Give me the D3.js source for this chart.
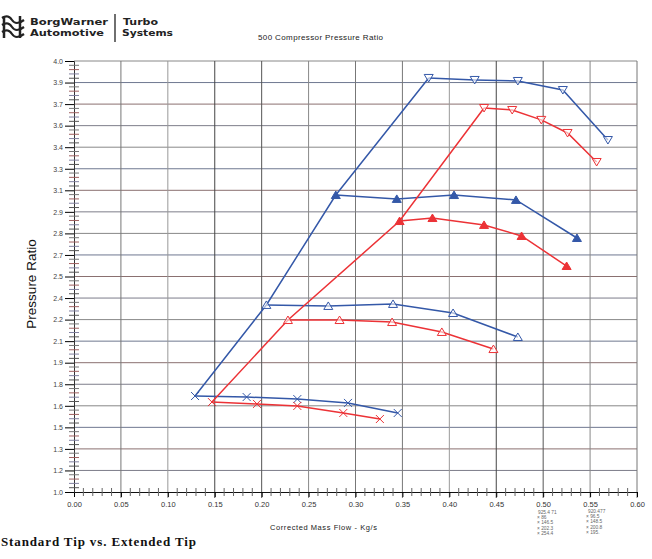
<!DOCTYPE html>
<html><head><meta charset="utf-8">
<script src="https://cdn.jsdelivr.net/npm/d3@7"></script>
<style>body{margin:0;background:#fff}svg{display:block}</style>
</head><body><svg id="c" width="652" height="559"></svg>
<script>
// ---- data ----
const blueSpeed1 = [[0.129,1.668],[0.184,1.661],[0.238,1.647],[0.292,1.620],[0.345,1.550]];
const blueSpeed2 = [[0.205,2.302],[0.271,2.295],[0.340,2.309],[0.404,2.246],[0.473,2.079]];
const blueSpeed3 = [[0.279,3.067],[0.344,3.040],[0.405,3.067],[0.471,3.033],[0.536,2.768]];
const blueSpeed4 = [[0.378,3.882],[0.427,3.868],[0.473,3.861],[0.521,3.798],[0.569,3.450]];
const redSpeed1 = [[0.147,1.626],[0.195,1.613],[0.238,1.599],[0.287,1.550],[0.326,1.508]];
const redSpeed2 = [[0.228,2.197],[0.283,2.197],[0.339,2.183],[0.392,2.114],[0.447,1.995]];
const redSpeed3 = [[0.347,2.886],[0.382,2.907],[0.437,2.859],[0.477,2.782],[0.525,2.573]];
const redSpeed4 = [[0.437,3.673],[0.467,3.659],[0.498,3.590],[0.526,3.499],[0.557,3.297]];
const markers = ["x","triUpOpen","triUpFilled","triDownOpen"];
const xTickValues = [0,0.05,0.10,0.15,0.20,0.25,0.30,0.35,0.40,0.45,0.50,0.55,0.60];
const xTickLabels = ["0.00","0.05","0.10","0.15","0.20","0.25","0.30","0.35","0.40","0.45","0.50","0.55","0.60"];
const yTickValues = [1.0,1.15,1.3,1.45,1.6,1.75,1.9,2.05,2.2,2.35,2.5,2.65,2.8,2.95,3.1,3.25,3.4,3.55,3.7,3.85,4.0];
const yTickLabels = ["1.0","1.2","1.3","1.5","1.6","1.8","1.9","2.1","2.2","2.4","2.5","2.7","2.8","2.9","3.1","3.3","3.4","3.6","3.7","3.9","4.0"];
const legendCol1 = ["925.4 71","86","146.5","202.3","254.4"];
const legendCol2 = ["920.477","96.5","148.5","200.8","195."];

const BLUE = "#3458a8", RED = "#ec3236";
const svg = d3.select("#c");
const x = d3.scaleLinear().domain([0,0.6]).range([74,637]);
const y = d3.scaleLinear().domain([1,4]).range([492,61]);

// grid
const g = svg.append("g");
g.selectAll("line.h").data(yTickValues.slice(1)).join("line")
  .attr("x1",x(0)).attr("x2",x(0.6)).attr("y1",d=>y(d)).attr("y2",d=>y(d))
  .attr("stroke",(d,i)=>["#7d7d8a","#8a7070","#6f7890","#888"][i%4]).attr("stroke-width",1);
g.selectAll("line.v").data(xTickValues.slice(1)).join("line")
  .attr("y1",y(1)+6).attr("y2",y(4)).attr("x1",d=>x(d)).attr("x2",d=>x(d))
  .attr("stroke",(d,i)=>[ "#777","#999","#444","#555","#888","#777"][i%6]).attr("stroke-width",1);

// axes
const xAxis = d3.axisBottom(x).tickValues(xTickValues).tickFormat((d,i)=>xTickLabels[i]).tickSize(5).tickPadding(5);
const xa = svg.append("g").attr("transform",`translate(0,${y(1)})`).call(xAxis);
xa.select(".domain").attr("stroke","#111");
xa.selectAll("text").attr("font-family","Arial, Liberation Sans, sans-serif").attr("font-size",7.5).attr("fill","#333");
const xMinor = d3.range(0,61).map(i=>i/100).filter(v=>Math.round(v*100)%5!==0);
svg.append("g").selectAll("line").data(xMinor).join("line")
  .attr("x1",d=>x(d)).attr("x2",d=>x(d)).attr("y1",y(1)-4).attr("y2",y(1)+4)
  .attr("stroke","#666").attr("stroke-width",1);

const yAxis = d3.axisLeft(y).tickValues(yTickValues).tickFormat((d,i)=>yTickLabels[i]).tickSize(9).tickPadding(2);
const ya = svg.append("g").attr("transform",`translate(${x(0)},0)`).call(yAxis);
ya.select(".domain").attr("stroke","#333");
ya.selectAll("text").attr("font-family","Arial, Liberation Sans, sans-serif").attr("font-size",7).attr("fill","#444");
const yMinor = [];
for (let i=0;i<20;i++) for (let k=1;k<5;k++) yMinor.push(yTickValues[i]+k*0.03);
svg.append("g").selectAll("line").data(yMinor).join("line")
  .attr("x1",x(0)-5).attr("x2",x(0)+5).attr("y1",d=>y(d)).attr("y2",d=>y(d))
  .attr("stroke",(d,i)=>["#555","#8080a0","#a06060","#777"][i%4]).attr("stroke-width",1);

// series
const line = d3.line().x(d=>x(d[0])).y(d=>y(d[1]));
function drawFamily(speeds, color){
  const surge = speeds.map(s=>s[0]);
  svg.append("path").attr("d",line(surge)).attr("fill","none").attr("stroke",color).attr("stroke-width",1.5);
  speeds.forEach((s,si)=>{
    svg.append("path").attr("d",line(s)).attr("fill","none").attr("stroke",color).attr("stroke-width",1.5);
    const m = markers[si];
    svg.append("g").selectAll("path").data(s).join("path")
      .attr("transform",d=>`translate(${x(d[0])},${y(d[1])})`)
      .attr("d",()=>{
        if(m==="x") return "M-4,-4L4,4M-4,4L4,-4";
        if(m==="triDownOpen") return "M-4.5,-3.5L4.5,-3.5L0,4Z";
        return "M-4.5,3.5L4.5,3.5L0,-4Z";
      })
      .attr("fill", m==="triUpFilled" ? color : (m==="x" ? "none" : "#fff"))
      .attr("fill-opacity", m==="triUpFilled" ? 1 : 0.6)
      .attr("stroke",color).attr("stroke-width",1);
  });
}
drawFamily([blueSpeed1,blueSpeed2,blueSpeed3,blueSpeed4], BLUE);
drawFamily([redSpeed1,redSpeed2,redSpeed3,redSpeed4], RED);

// texts
const sans = "Arial, Liberation Sans, sans-serif";
svg.append("text").attr("x",258).attr("y",40).attr("font-family",sans).attr("font-size",8)
  .attr("textLength",125).attr("fill","#222").text("500 Compressor Pressure Ratio");
svg.append("text").attr("transform","translate(36,284) rotate(-90)").attr("text-anchor","middle")
  .attr("font-family",sans).attr("font-size",13.5).attr("fill","#111").text("Pressure Ratio");
svg.append("text").attr("x",270).attr("y",530).attr("font-family",sans).attr("font-size",7.5)
  .attr("textLength",107).attr("fill","#222").text("Corrected Mass Flow - Kg/s");
svg.append("text").attr("x",1).attr("y",546).attr("font-family","Liberation Serif, Times New Roman, serif")
  .attr("font-weight","bold").attr("font-size",13).attr("textLength",195).attr("fill","#111").text("Standard Tip vs. Extended Tip");

// logo
const logoFont = "DejaVu Sans, Arial, sans-serif";
[["BorgWarner",30,25,78],["Automotive",30,36,74],["Turbo",123,25,35],["Systems",122,36,51]].forEach(([t,lx,ly,w])=>{
  svg.append("text").attr("x",lx).attr("y",ly).attr("font-family",logoFont).attr("font-weight","bold")
    .attr("font-size",9.5).attr("textLength",w).attr("lengthAdjust","spacingAndGlyphs").attr("fill","#222").text(t);
});
svg.append("line").attr("x1",115).attr("x2",115).attr("y1",14).attr("y2",42).attr("stroke","#222").attr("stroke-width",1.3);
const icon = svg.append("g").attr("fill","none").attr("stroke","#222").attr("stroke-width",2.2);
icon.append("path").attr("d","M2,18 Q8,14 12,20 T24,20");
icon.append("path").attr("d","M2,25 Q8,21 12,27 T24,27");
icon.append("path").attr("d","M2,32 Q8,28 12,34 T24,34");
icon.append("path").attr("d","M4,16 L4,38 M20,16 L20,38").attr("stroke-width",2.5);

// legend (tiny)
legendCol1.forEach((t,i)=>svg.append("text").attr("x",i?537:538).attr("y",514+i*5.2).attr("font-family",sans)
  .attr("font-size",4.8).attr("fill","#666").text(i?"\u00d7 "+t:t));
legendCol2.forEach((t,i)=>svg.append("text").attr("x",i?586:588).attr("y",513+i*5.2).attr("font-family",sans)
  .attr("font-size",4.8).attr("fill","#666").text(i?"\u00d7 "+t:t));
</script></body></html>
